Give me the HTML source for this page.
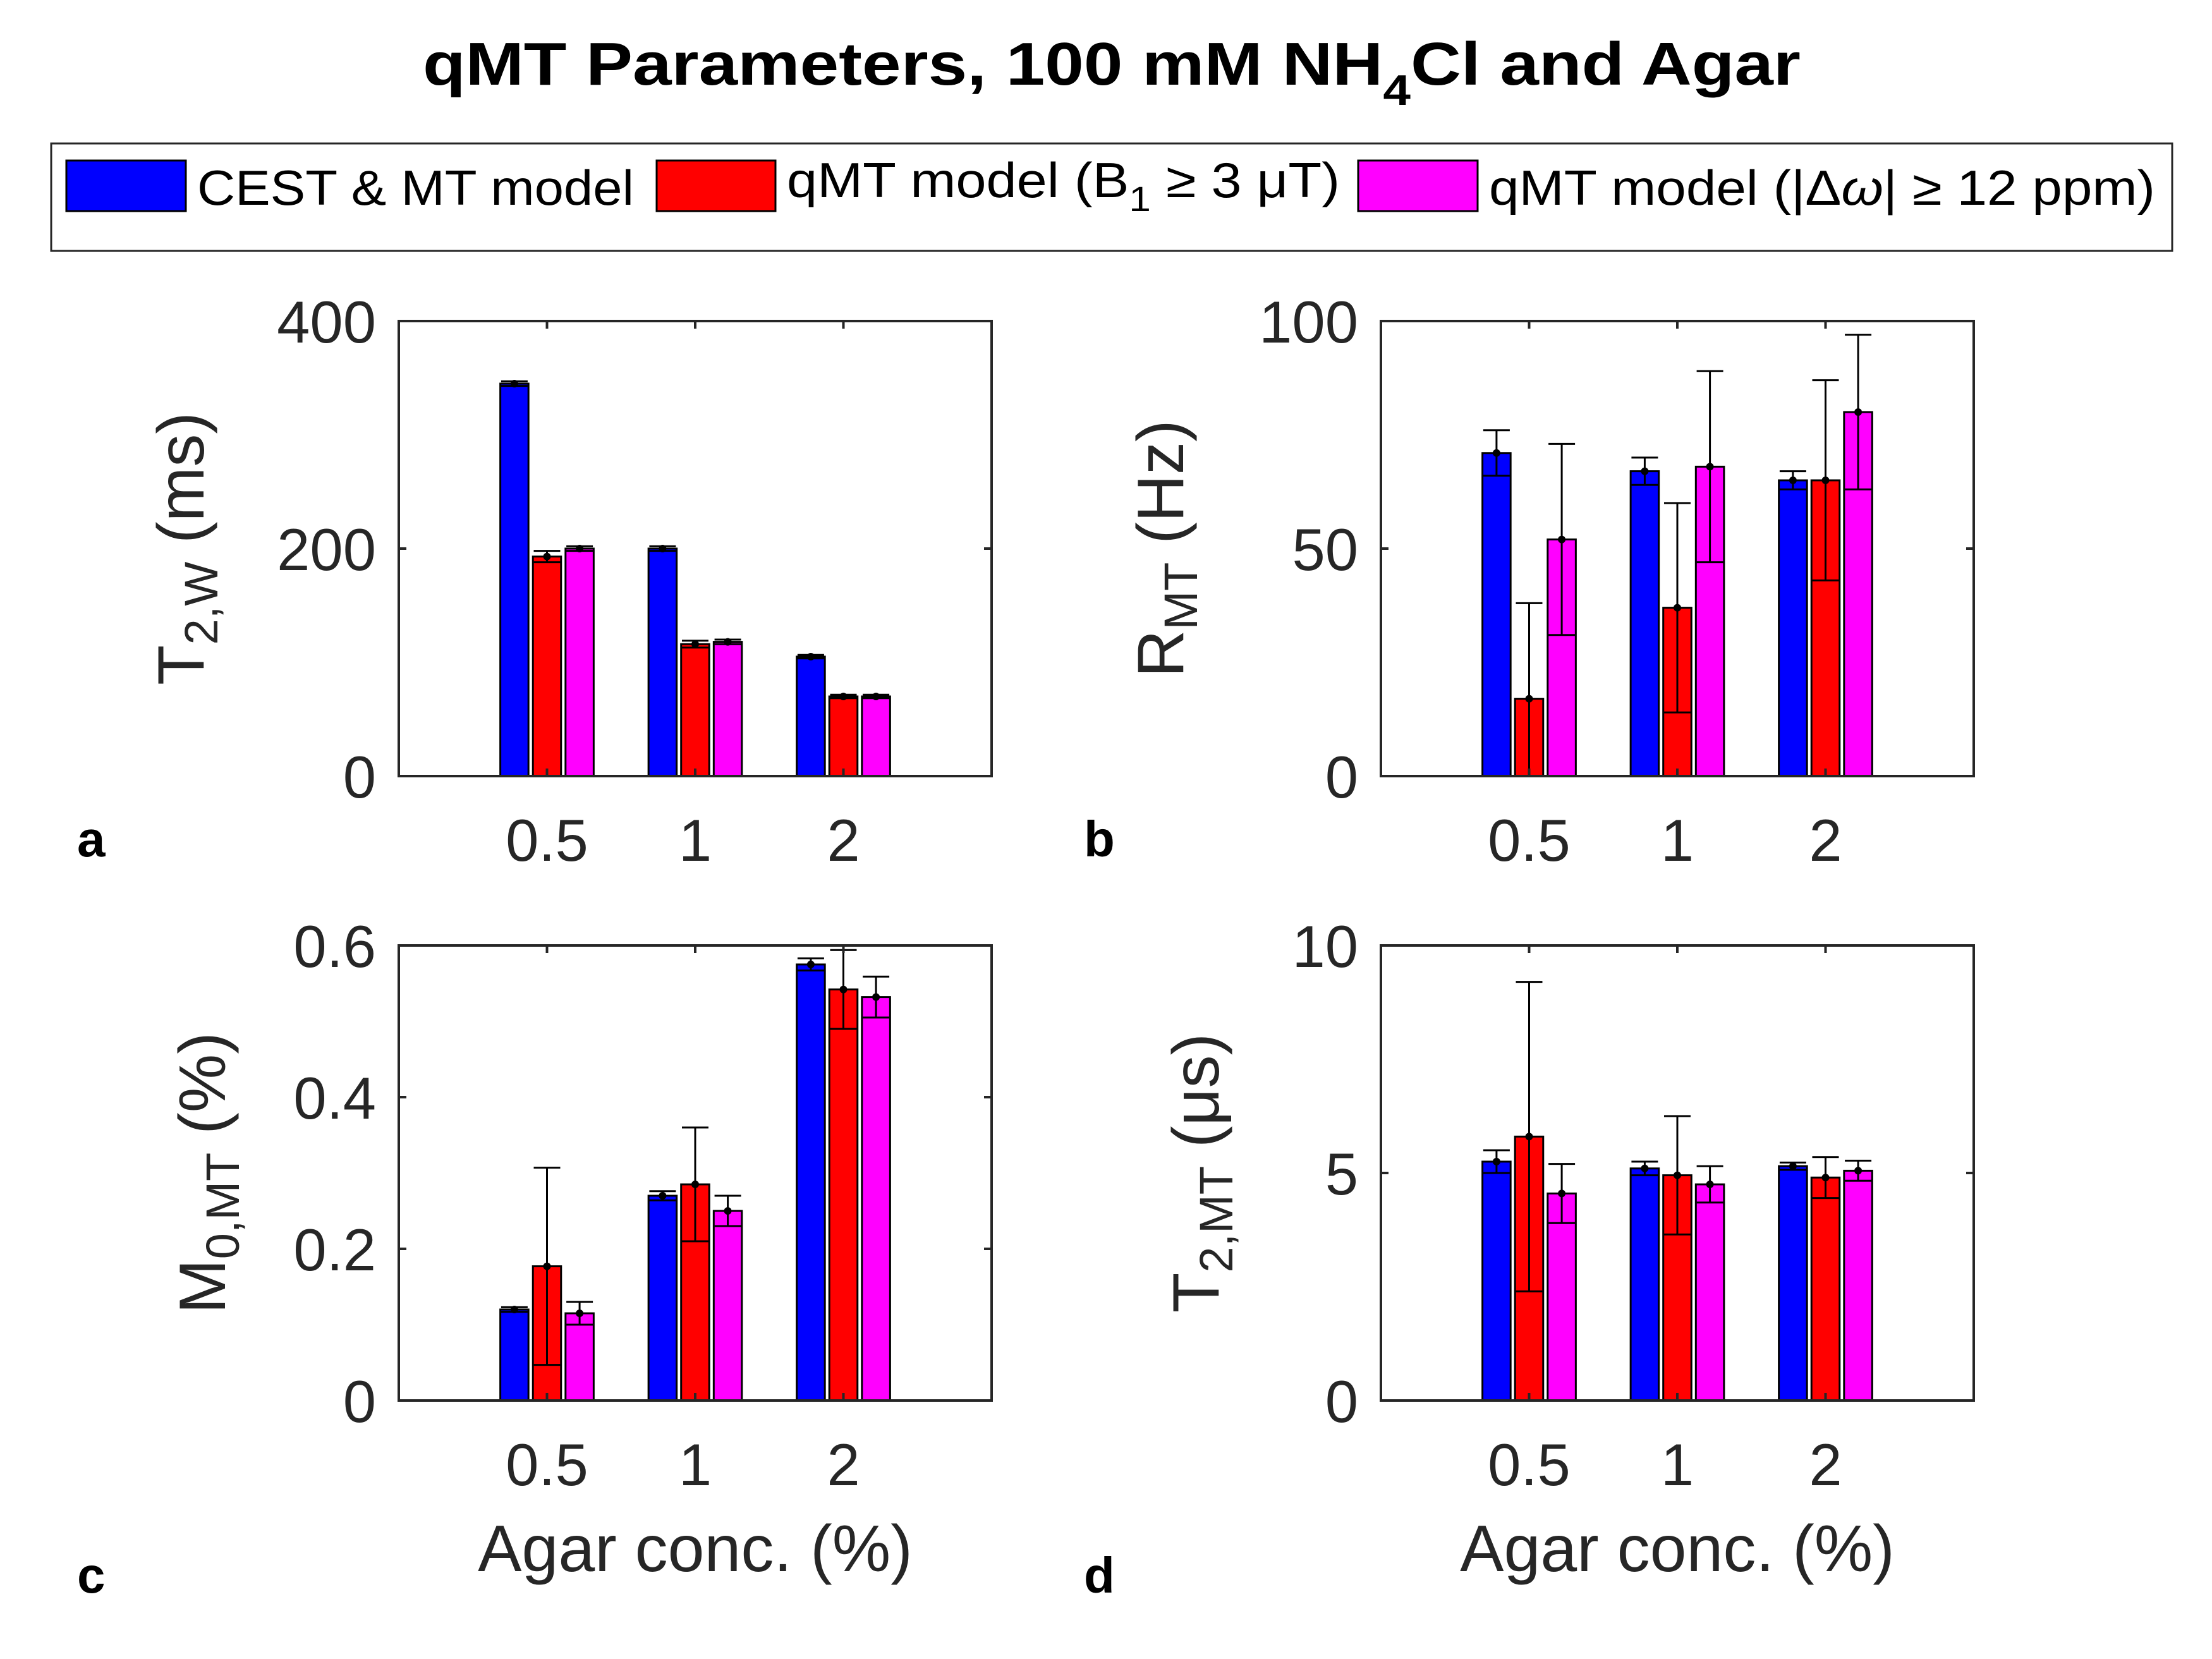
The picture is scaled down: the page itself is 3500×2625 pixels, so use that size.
<!DOCTYPE html>
<html><head><meta charset="utf-8"><style>
html,body{margin:0;padding:0;background:#fff;}
svg{display:block;font-family:"Liberation Sans",Arial,sans-serif;}
</style></head><body>
<svg id="fig" width="3500" height="2625" viewBox="0 0 3500 2625" xmlns="http://www.w3.org/2000/svg">
<rect width="3500" height="2625" fill="#fff"/>
<text x="669" y="134" font-size="96" font-weight="bold" fill="#000" textLength="2180" lengthAdjust="spacingAndGlyphs">qMT Parameters, 100 mM NH<tspan font-size="68" dy="32">4</tspan><tspan dy="-32">Cl and Agar</tspan></text>
<g>
<rect x="81" y="227" width="3356" height="170" fill="#fff" stroke="#262626" stroke-width="3"/>
<rect x="105" y="254" width="189" height="80" fill="#0000ff" stroke="#000" stroke-width="3"/>
<text x="312" y="324" font-size="78" textLength="691" lengthAdjust="spacingAndGlyphs">CEST &amp; MT model</text>
<rect x="1039" y="254" width="188" height="80" fill="#ff0000" stroke="#000" stroke-width="3"/>
<text x="1245" y="312" font-size="78" textLength="875" lengthAdjust="spacingAndGlyphs">qMT model (B<tspan font-size="56" dy="22">1</tspan><tspan dy="-22"> ≥ 3 μT)</tspan></text>
<rect x="2149" y="254" width="189" height="80" fill="#ff00ff" stroke="#000" stroke-width="3"/>
<text x="2356" y="324" font-size="78" textLength="1054" lengthAdjust="spacingAndGlyphs">qMT model (|Δ<tspan font-style="italic">ω</tspan>| ≥ 12 ppm)</text>
</g>
<g id="plots"></g>
</svg>
<script>
const categories = ["0.5","1","2"];
// panel a: T2,W (ms)
const aBlue = [345,200,105], aRed = [193,116,70], aMag = [200,118,70];
const aBlueErr = [2,2,1.5], aRedErr = [5,3,1.5], aMagErr = [2,2,1.5];
// panel b: R_MT (Hz)
const bBlue = [71,67,65], bRed = [17,37,65], bMag = [52,68,80];
const bBlueErr = [5,3,2], bRedErr = [21,23,22], bMagErr = [21,21,17];
// panel c: M0,MT (%)
const cBlue = [0.12,0.27,0.575], cRed = [0.177,0.285,0.542], cMag = [0.115,0.25,0.532];
const cBlueErr = [0.003,0.006,0.008], cRedErr = [0.13,0.075,0.052], cMagErr = [0.015,0.02,0.027];
// panel d: T2,MT (us)
const dBlue = [5.25,5.1,5.15], dRed = [5.8,4.95,4.9], dMag = [4.55,4.75,5.05];
const dBlueErr = [0.25,0.15,0.08], dRedErr = [3.4,1.3,0.45], dMagErr = [0.65,0.4,0.22];
const aTicks = [0,200,400], bTicks = [0,50,100], cTicks = [0,0.2,0.4,0.6], dTicks = [0,5,10];
const aTickLabels = ["0","200","400"], bTickLabels = ["0","50","100"], cTickLabels = ["0","0.2","0.4","0.6"], dTickLabels = ["0","5","10"];

const NS="http://www.w3.org/2000/svg";
const root=document.getElementById('plots');
function mk(tag,attrs,parent){const e=document.createElementNS(NS,tag);for(const k in attrs)e.setAttribute(k,attrs[k]);(parent||root).appendChild(e);return e;}

function panel(id,L,T,W,H,ymax,ticks,tickLabels,series,errs,ylabel,letter,letterPos,ylabX,xlabel){
  const g=mk('g',{});
  
  
  const x=v=>L+v/4*W;
  const y=v=>T+H-v/ymax*H;
  const colors=['#0000ff','#ff0000','#ff00ff'];
  const names=['cest','qmt-b1','qmt-dw'];
  const offs=[-0.22,0,0.22], bw=0.19;
  series.forEach((s,si)=>{
    s.forEach((v,ci)=>{
      const cx=x(ci+1+offs[si]);
      const r=mk('rect',{x:cx-bw/4*W/2,y:y(v),width:bw/4*W,height:y(0)-y(v),fill:colors[si],stroke:'#000','stroke-width':3},g);
      
      
    });
  });
  series.forEach((s,si)=>{
    s.forEach((v,ci)=>{
      const cx=x(ci+1+offs[si]), e=errs[si][ci];
      const lo=Math.max(0,v-e), hi=Math.min(ymax,v+e), cap=21;
      const eg=mk('g',{stroke:'#000','stroke-width':3},g);
      
      
      mk('line',{x1:cx,x2:cx,y1:y(lo),y2:y(hi)},eg);
      if(v+e<=ymax) mk('line',{x1:cx-cap,x2:cx+cap,y1:y(hi),y2:y(hi)},eg);
      if(v-e>=0) mk('line',{x1:cx-cap,x2:cx+cap,y1:y(lo),y2:y(lo)},eg);
      const d=mk('circle',{cx:cx,cy:y(v),r:6,fill:'#000'},g);
      
      
    });
  });
  const box=mk('rect',{x:L,y:T,width:W,height:H,fill:'none',stroke:'#262626','stroke-width':4},g);
  
  
  ticks.forEach((t,i)=>{
    mk('line',{x1:L,x2:L+12,y1:y(t),y2:y(t),stroke:'#262626','stroke-width':4},g);
    mk('line',{x1:L+W,x2:L+W-12,y1:y(t),y2:y(t),stroke:'#262626','stroke-width':4},g);
    const tl=mk('text',{x:L-36,y:y(t)+34,'text-anchor':'end','font-size':94,fill:'#262626'},g);
    tl.textContent=tickLabels[i];
    
    
  });
  categories.forEach((c,ci)=>{
    mk('line',{x1:x(ci+1),x2:x(ci+1),y1:T+H,y2:T+H-12,stroke:'#262626','stroke-width':4},g);
    mk('line',{x1:x(ci+1),x2:x(ci+1),y1:T,y2:T+12,stroke:'#262626','stroke-width':4},g);
    const tl=mk('text',{x:x(ci+1),y:T+H+134,'text-anchor':'middle','font-size':94,fill:'#262626'},g);
    tl.textContent=c;
    
    
  });
  const yl=mk('text',{transform:'translate('+ylabX+','+(T+H/2)+') rotate(-90)','text-anchor':'middle','font-size':104,fill:'#262626'},g);
  yl.innerHTML=ylabel;
  
  
  if(xlabel){
    const xl=mk('text',{x:L+W/2,y:T+H+270,'text-anchor':'middle','font-size':104,fill:'#262626'},g);
    xl.textContent='Agar conc. (%)';
    
    
  }
  const pl=mk('text',{x:letterPos[0],y:letterPos[1],'font-size':80,'font-weight':'bold',fill:'#000'},g);
  pl.textContent=letter;
  
  
}
const H=720,W=938;
panel('a',631,508,W,H,400,aTicks,aTickLabels,[aBlue,aRed,aMag],[aBlueErr,aRedErr,aMagErr],
 'T<tspan font-size="74" dy="22">2,W</tspan><tspan dy="-22"> (ms)</tspan>','a',[122,1355],322,false);
panel('b',2185,508,W,H,100,bTicks,bTickLabels,[bBlue,bRed,bMag],[bBlueErr,bRedErr,bMagErr],
 'R<tspan font-size="74" dy="22">MT</tspan><tspan dy="-22"> (Hz)</tspan>','b',[1715,1355],1872,false);
panel('c',631,1496,W,H,0.6,cTicks,cTickLabels,[cBlue,cRed,cMag],[cBlueErr,cRedErr,cMagErr],
 'M<tspan font-size="74" dy="22">0,MT</tspan><tspan dy="-22"> (%)</tspan>','c',[122,2520],356,true);
panel('d',2185,1496,W,H,10,dTicks,dTickLabels,[dBlue,dRed,dMag],[dBlueErr,dRedErr,dMagErr],
 'T<tspan font-size="74" dy="22">2,MT</tspan><tspan dy="-22"> (μs)</tspan>','d',[1715,2520],1928,true);
</script>
</body></html>
